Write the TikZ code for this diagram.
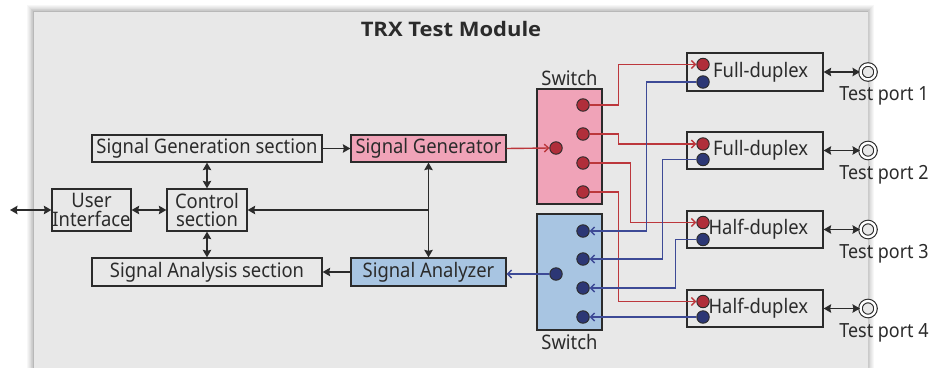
\documentclass[tikz,border=0pt]{standalone}
\usepackage{fontspec}
\setmainfont{Noto Sans}[FakeStretch=0.92]
\newfontfamily\titlefont{Open Sans}[FakeStretch=1.1]
\usetikzlibrary{arrows.meta}
\definecolor{panel}{HTML}{E8E8E8}
\definecolor{ink}{HTML}{2B2B2B}
\definecolor{pinkfill}{HTML}{F0A3B8}
\definecolor{bluefill}{HTML}{A8C5E2}
\definecolor{redwire}{HTML}{BC373C}
\definecolor{bluewire}{HTML}{3D4A96}
\definecolor{reddot}{HTML}{B02E3A}
\definecolor{bluedot}{HTML}{2C3775}
\tikzset{
  txt/.style={font=\fontsize{20}{18.5}\selectfont, text=ink},
  blk/.style={txt, draw=ink, line width=1.3pt, inner sep=0pt, align=center},
  sw/.style={draw=ink, line width=1.3pt, inner sep=0pt},
  rdot/.style={circle, draw=ink, line width=0.9pt, fill=reddot, minimum size=12.5pt, inner sep=0pt},
  bdot/.style={circle, draw=ink, line width=0.9pt, fill=bluedot, minimum size=12.5pt, inner sep=0pt},
  blackline/.style={draw=ink, line width=1.3pt, >={Stealth[length=7.5pt,width=8.5pt,inset=1pt]}},
  rw/.style={draw=redwire, line width=1.4pt, -{Straight Barb[length=4pt,width=8pt]}},
  bw/.style={draw=bluewire, line width=1.4pt, -{Straight Barb[length=4pt,width=8pt]}},
  port/.style={circle, draw=ink, line width=1.1pt, double=white, double distance=2.4pt, fill=panel, minimum size=15pt, inner sep=0pt},
  lbl/.style={txt, font=\fontsize{19.5}{18}\selectfont}
}
\begin{document}
\begin{tikzpicture}[x=1pt,y=-1pt]
\useasboundingbox (0,0) rectangle (933,367);
\fill[white] (0,0) rectangle (933,367);
% panel shadow
\foreach \i in {1,...,7}{
  \draw[black, opacity=0.03, line width=\i*1.6pt] (33,11) rectangle (868,380);
}
\fill[panel] (33,11) rectangle (868,380);
\draw[black!28, line width=1.8pt] (33.5,380) -- (33.5,11.5) -- (868,11.5);
\node[txt, font=\titlefont\fontsize{20}{18}\selectfont\bfseries] (title) at (451,29) {TRX Test Module};

% left blocks
\node[blk, minimum width=230pt, minimum height=27pt] (gensec) at (207,148.5) {Signal Generation section};
\node[blk, fill=pinkfill, minimum width=155pt, minimum height=27pt] (siggen) at (428.5,148.5) {Signal Generator};
\node[blk, minimum width=79pt, minimum height=42pt] (ui) at (91.5,210) {User\\Interface};
\node[blk, minimum width=80pt, minimum height=42pt] (ctrl) at (207,210) {Control\\section};
\node[blk, minimum width=230pt, minimum height=28pt] (anasec) at (207,272) {Signal Analysis section};
\node[blk, fill=bluefill, minimum width=155pt, minimum height=28pt] (sigana) at (428.5,272) {Signal Analyzer};

\coordinate (ext) at (10,210);
\coordinate (j) at (428.5,210);
\draw[blackline,<->] (ext) -- (ui.west);
\draw[blackline,<->] (ui.east) -- (ctrl.west);
\draw[blackline,->] (gensec.east) -- (siggen.west);
\draw[blackline,<->] (gensec.south) -- (ctrl.north);
\draw[blackline,<->] (ctrl.south) -- (anasec.north);
\draw[blackline,<->] (siggen.south) -- (sigana.north);
\draw[blackline,->] (j) -- (ctrl.east);
\draw[blackline,->] (sigana.west) -- (anasec.east);

% switches
\node[sw, fill=pinkfill, minimum width=65pt, minimum height=115pt] (swp) at (569.5,146.5) {};
\node[sw, fill=bluefill, minimum width=65pt, minimum height=116pt] (swb) at (569.5,272) {};
\node[txt] (swpl) at (569.5,78) {Switch};
\node[txt] (swbl) at (569.5,342) {Switch};

\node[rdot] (pin) at (556,148) {};
\node[rdot] (p1) at (583,105) {};
\node[rdot] (p2) at (583,134) {};
\node[rdot] (p3) at (583,163) {};
\node[rdot] (p4) at (583,192) {};
\node[bdot] (bin) at (556,274) {};
\node[bdot] (b1) at (583,231) {};
\node[bdot] (b2) at (583,259) {};
\node[bdot] (b3) at (583,288) {};
\node[bdot] (b4) at (583,317) {};

% duplex boxes
\node[blk, minimum width=136pt, minimum height=38pt, text width=112pt, align=right] (fd1) at (755,72) {Full-duplex\hspace*{3pt}};
\node[blk, minimum width=136pt, minimum height=37pt, text width=112pt, align=right] (fd2) at (755,150.5) {Full-duplex\hspace*{3pt}};
\node[blk, minimum width=136pt, minimum height=37pt, text width=112pt, align=right] (hd3) at (755,229.5) {Half-duplex\hspace*{3pt}};
\node[blk, minimum width=136pt, minimum height=37pt, text width=112pt, align=right] (hd4) at (755,308.5) {Half-duplex\hspace*{3pt}};

\node[rdot] (fd1r) at (703,64.5) {};
\node[bdot] (fd1b) at (703,82) {};
\node[rdot] (fd2r) at (703,144) {};
\node[bdot] (fd2b) at (703,159.5) {};
\node[rdot] (hd3r) at (703,222.5) {};
\node[bdot] (hd3b) at (703,239.5) {};
\node[rdot] (hd4r) at (703,301.5) {};
\node[bdot] (hd4b) at (703,317) {};

% ports
\node[port] (tp1) at (868,72) {};
\node[port] (tp2) at (868,150.5) {};
\node[port] (tp3) at (868,229.5) {};
\node[port] (tp4) at (868,308.5) {};
\node[lbl] (tl1) at (884,96) {Test port 1};
\node[lbl] (tl2) at (884,174.5) {Test port 2};
\node[lbl] (tl3) at (884,253.5) {Test port 3};
\node[lbl] (tl4) at (884,332.5) {Test port 4};
\draw[blackline,<->] (fd1.east) -- (tp1.west);
\draw[blackline,<->] (fd2.east) -- (tp2.west);
\draw[blackline,<->] (hd3.east) -- (tp3.west);
\draw[blackline,<->] (hd4.east) -- (tp4.west);

% red wires
\draw[rw] (siggen.east) -- (pin.west);
\draw[rw] (p1.east) -- ++(29,0) |- (fd1r.west);
\draw[rw] (p2.east) -- ++(29,0) |- (fd2r.west);
\draw[rw] (p3.east) -- ++(41,0) |- (hd3r.west);
\draw[rw] (p4.east) -- ++(29,0) |- (hd4r.west);
% blue wires
\draw[bw] (bin.west) -- (sigana.east |- bin.west);
\draw[bw] (fd1b.west) -- ++(-50,0) |- (b1.east);
\draw[bw] (fd2b.west) -- ++(-34,0) |- (b2.east);
\draw[bw] (hd3b.west) -- ++(-21,0) |- (b3.east);
\draw[bw] (hd4b.west) -- (b4.east);
\end{tikzpicture}
\end{document}
